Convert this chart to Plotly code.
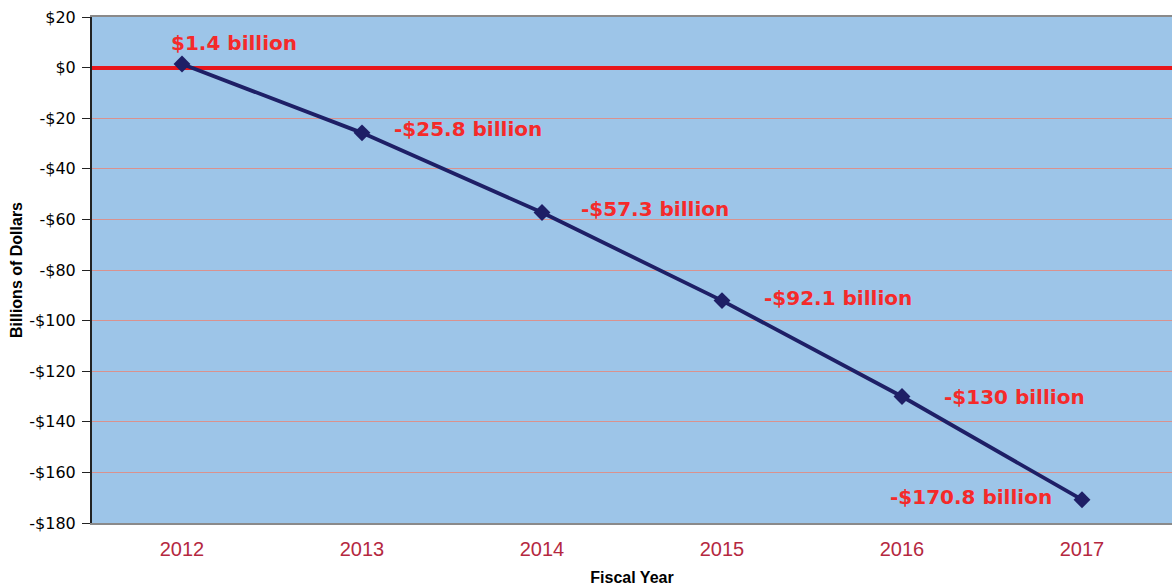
import plotly.graph_objects as go

years = ["2012", "2013", "2014", "2015", "2016", "2017"]
values = [1.4, -25.8, -57.3, -92.1, -130.0, -170.8]
labels = ["$1.4 billion", "-$25.8 billion", "-$57.3 billion", "-$92.1 billion",
          "-$130 billion", "-$170.8 billion"]
y_ticks = [20, 0, -20, -40, -60, -80, -100, -120, -140, -160, -180]
y_tick_text = ["$20", "$0", "-$20", "-$40", "-$60", "-$80", "-$100", "-$120",
               "-$140", "-$160", "-$180"]

fig = go.Figure()
fig.add_trace(go.Scatter(
    x=years, y=values, mode="lines+markers",
    line=dict(color="#1E1F66", width=3.8),
    marker=dict(symbol="diamond", size=13, color="#1E1F66"),
    hoverinfo="skip", showlegend=False,
))

# label offsets (pixels) per point: (xanchor, xshift, yshift)
offsets = [("left", -13, 21), ("left", 30, 4), ("left", 37, 4),
           ("left", 40, 3), ("left", 40, 0), ("right", -28, 3)]
for i, (v, lab, (xa, xs, ys)) in enumerate(zip(values, labels, offsets)):
    fig.add_annotation(x=i, y=v, xref="x", yref="y", text="<b>" + lab + "</b>",
                       showarrow=False, xanchor=xa, yanchor="middle",
                       xshift=xs, yshift=ys,
                       font=dict(family="DejaVu Sans", size=20, color="#F52A2A"))

fig.update_layout(
    width=1173, height=586,
    margin=dict(l=92, r=1, t=17, b=63),
    paper_bgcolor="white", plot_bgcolor="#9DC5E8",
    font=dict(family="Arial, Liberation Sans", color="black"),
    xaxis=dict(
        type="category", range=[-0.5, 5.5],
        showgrid=False, showline=True, linecolor="#8A8A8A", linewidth=2, mirror=True,
        ticks="", tickfont=dict(size=20, color="#B5283F"), ticklabelstandoff=7,
        title=dict(text="<b>Fiscal Year</b>", font=dict(size=16, color="black"), standoff=14),
        zeroline=False,
    ),
    yaxis=dict(
        range=[-180, 20], tickvals=y_ticks, ticktext=y_tick_text,
        showgrid=True, gridcolor="#D9928E", gridwidth=1,
        showline=True, linecolor="#222222", linewidth=2,
        ticks="outside", ticklen=8, tickcolor="#222222", ticklabelstandoff=3,
        tickfont=dict(family="DejaVu Sans", size=16, color="black"),
        title=dict(text="<b>Billions of Dollars</b>", font=dict(size=16, color="black"), standoff=3),
        zeroline=True, zerolinecolor="#E8161B", zerolinewidth=3.5,
    ),
)

fig.write_html("out.html", config={"displayModeBar": False},
               post_script="document.body.style.margin='0';")
